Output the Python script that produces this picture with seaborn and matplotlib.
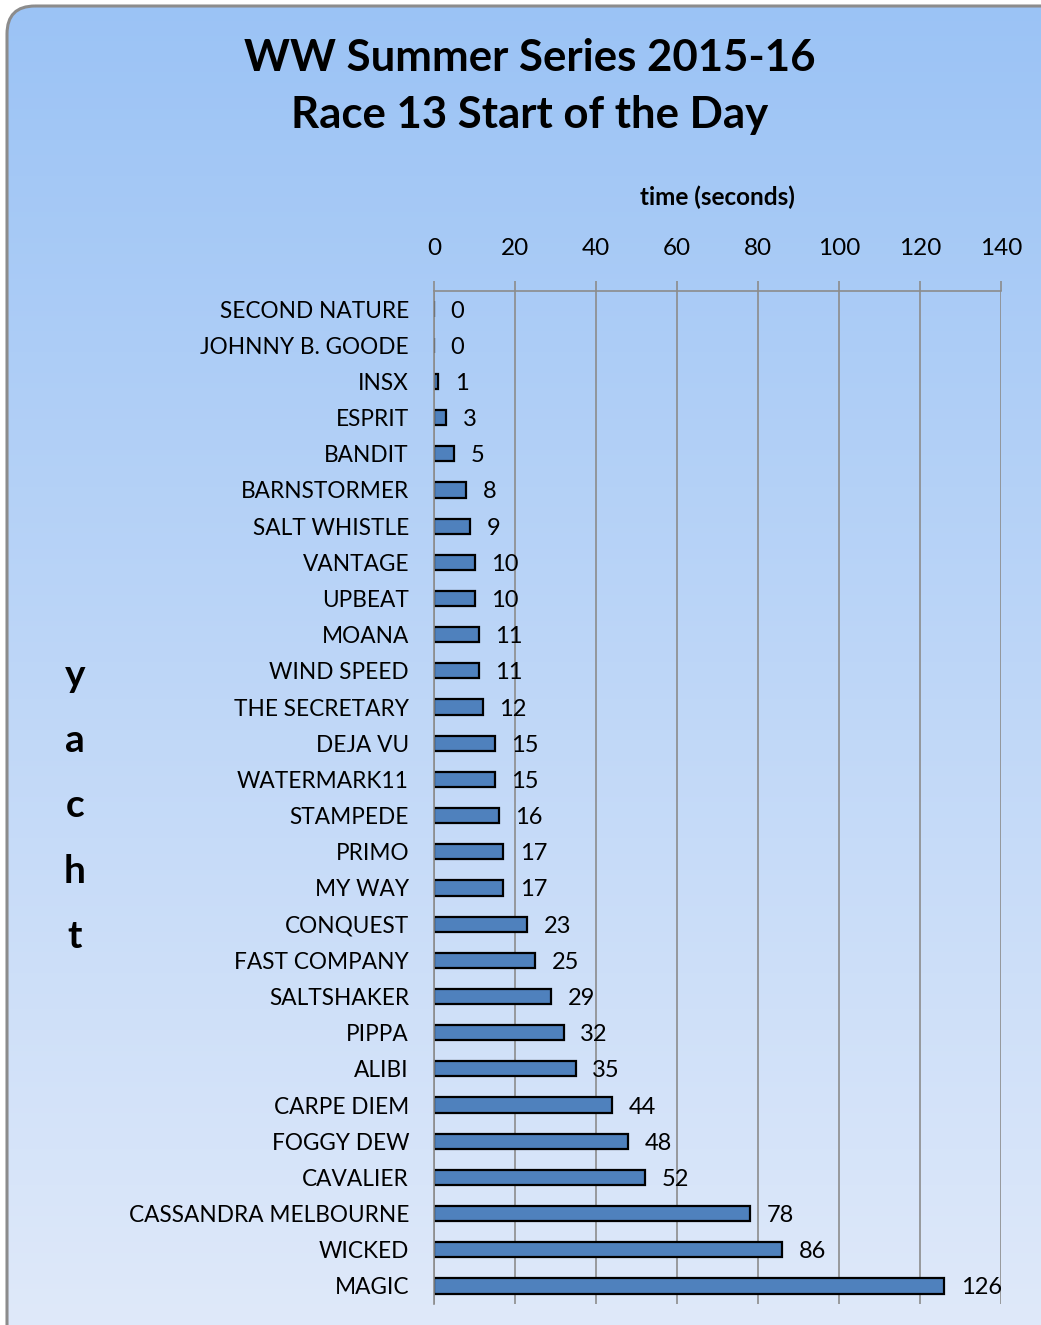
import numpy as np
import pandas as pd
import matplotlib
matplotlib.use('Agg')
import matplotlib.pyplot as plt
import seaborn as sns
from matplotlib.patches import FancyBboxPatch

# chart data
yachts = ['SECOND NATURE', 'JOHNNY B. GOODE', 'INSX', 'ESPRIT', 'BANDIT', 'BARNSTORMER',
          'SALT WHISTLE', 'VANTAGE', 'UPBEAT', 'MOANA', 'WIND SPEED', 'THE SECRETARY',
          'DEJA VU', 'WATERMARK11', 'STAMPEDE', 'PRIMO', 'MY WAY', 'CONQUEST',
          'FAST COMPANY', 'SALTSHAKER', 'PIPPA', 'ALIBI', 'CARPE DIEM', 'FOGGY DEW',
          'CAVALIER', 'CASSANDRA MELBOURNE', 'WICKED', 'MAGIC']
times = [0, 0, 1, 3, 5, 8, 9, 10, 10, 11, 11, 12, 15, 15, 16, 17, 17, 23,
         25, 29, 32, 35, 44, 48, 52, 78, 86, 126]
x_ticks = [0, 20, 40, 60, 80, 100, 120, 140]

df = pd.DataFrame({'yacht': yachts, 'time': times})

sns.set_style('white')
plt.rcParams['font.family'] = ['Lato', 'DejaVu Sans']

W, H = 1041, 1325
fig = plt.figure(figsize=(W / 100, H / 100), dpi=100)

# background panel with gradient and rounded border
bg = fig.add_axes([0, 0, 1, 1])
bg.set_xlim(0, W)
bg.set_ylim(H, 0)
bg.axis('off')
top_c = np.array([155, 195, 245]) / 255
bot_c = np.array([223, 233, 250]) / 255
t = np.linspace(0, 1, 256)[:, None]
grad = (top_c * (1 - t) + bot_c * t)[:, None, :]
img = bg.imshow(grad, extent=[0, W, H, 0], aspect='auto', zorder=0)
panel = FancyBboxPatch((7, 6), 1200, 1500, boxstyle='round,pad=0,rounding_size=28',
                       facecolor='none', edgecolor='#8c8c8c', linewidth=2.2, zorder=1)
bg.add_patch(panel)
img.set_clip_path(panel)

# main chart
ax = fig.add_axes([434 / W, 1 - 1304 / H, (1001 - 434) / W, (1304 - 291) / H])
ax.set_facecolor('none')
sns.barplot(data=df, x='time', y='yacht', orient='h', color='#4f81bd',
            edgecolor='black', linewidth=1.6, width=0.42, saturation=1, ax=ax)
labels = ax.bar_label(ax.containers[0], labels=[str(v) for v in times], padding=12,
                      fontsize=17, color='black')
for lb in labels:
    lb.set_va('center_baseline')

ax.set_xlim(0, 140)
ax.set_ylim(len(yachts) - 0.5, -0.5)
ax.xaxis.tick_top()
ax.xaxis.set_label_position('top')
ax.set_xticks(x_ticks)
ax.set_xlabel('time (seconds)', fontsize=17.5, fontweight='bold', labelpad=24, color='black')
ax.set_ylabel('')
ax.grid(axis='x', color='#8c8c8c', linewidth=1.2)
ax.set_axisbelow(True)
for s in ['right', 'bottom']:
    ax.spines[s].set_visible(False)
for s in ['top', 'left']:
    ax.spines[s].set_color('#8c8c8c')
    ax.spines[s].set_linewidth(1.2)

ax.tick_params(axis='x', which='major', length=7, color='#8c8c8c', width=1.2,
               pad=16, labelsize=17.5, labelcolor='black')
ax.tick_params(axis='y', which='major', length=0, pad=18, labelsize=16.3, labelcolor='black')
ax.set_yticks(np.arange(len(yachts) + 1) - 0.5, minor=True)
ax.tick_params(axis='y', which='minor', length=7, color='#8c8c8c', width=1.2)

fig.text(530 / W, 1 - 58 / H, 'WW Summer Series 2015-16', ha='center', va='center',
         fontsize=31.5, fontweight='bold', color='black')
fig.text(530 / W, 1 - 115 / H, 'Race 13 Start of the Day', ha='center', va='center',
         fontsize=31.5, fontweight='bold', color='black')
fig.text(75 / W, 1 - 806 / H, 'y\na\nc\nh\nt', ha='center', va='center',
         fontsize=28, fontweight='bold', linespacing=2.04, color='black')

fig.savefig('out.png', dpi=100)
